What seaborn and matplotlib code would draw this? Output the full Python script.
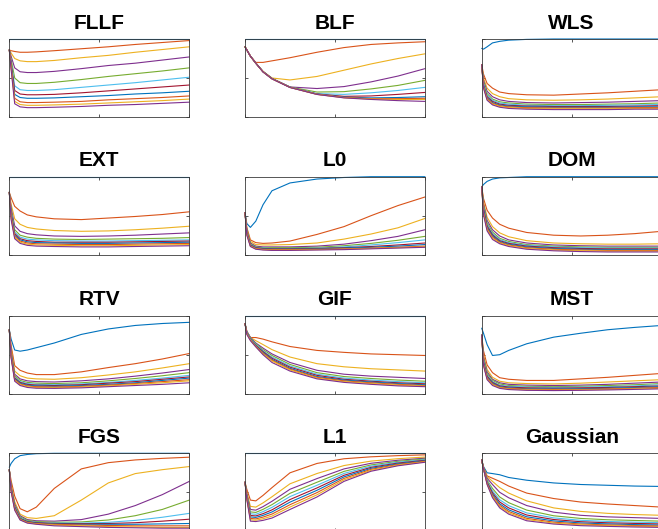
"""Convergence curves for twelve smoothing filters, drawn as a 4x3 grid."""
import matplotlib
matplotlib.use("Agg")
import matplotlib.pyplot as plt
import pandas as pd
import seaborn as sns

# shared x positions (normalised iteration axis)
X = [0, 0.01, 0.03, 0.06, 0.1, 0.15, 0.25, 0.4, 0.55, 0.7, 0.85, 1.0]

# MATLAB default colour order, cycled over the 11 curves
COLORS = ["#0072BD", "#D95319", "#EDB120", "#7E2F8E", "#77AC30", "#4DBEEE",
          "#A2142F", "#0072BD", "#D95319", "#EDB120", "#7E2F8E"]

FLLF = [
    [1.0, 1.0, 1.0, 1.0, 1.0, 1.0, 1.0, 1.0, 1.0, 1.0, 1.0, 1.0],
    [0.86, 0.85, 0.84, 0.83, 0.83, 0.835, 0.85, 0.875, 0.90, 0.93, 0.955, 0.98],
    [0.86, 0.82, 0.75, 0.72, 0.71, 0.71, 0.725, 0.76, 0.79, 0.83, 0.865, 0.90],
    [0.86, 0.78, 0.63, 0.58, 0.57, 0.57, 0.585, 0.62, 0.66, 0.69, 0.73, 0.77],
    [0.86, 0.74, 0.50, 0.44, 0.43, 0.43, 0.445, 0.48, 0.52, 0.555, 0.59, 0.63],
    [0.86, 0.71, 0.40, 0.35, 0.34, 0.34, 0.35, 0.38, 0.41, 0.44, 0.475, 0.51],
    [0.86, 0.69, 0.34, 0.295, 0.285, 0.285, 0.29, 0.31, 0.335, 0.36, 0.385, 0.41],
    [0.86, 0.67, 0.29, 0.25, 0.24, 0.24, 0.245, 0.26, 0.275, 0.295, 0.31, 0.33],
    [0.86, 0.65, 0.24, 0.195, 0.185, 0.185, 0.19, 0.20, 0.22, 0.235, 0.25, 0.27],
    [0.86, 0.63, 0.20, 0.16, 0.15, 0.15, 0.155, 0.165, 0.18, 0.195, 0.21, 0.23],
    [0.86, 0.61, 0.17, 0.13, 0.12, 0.12, 0.125, 0.135, 0.15, 0.16, 0.175, 0.19],
]

BLF = [
    [1.0, 1.0, 1.0, 1.0, 1.0, 1.0, 1.0, 1.0, 1.0, 1.0, 1.0, 1.0],
    [0.9, 0.86, 0.78, 0.70, 0.70, 0.72, 0.76, 0.83, 0.89, 0.93, 0.95, 0.965],
    [0.9, 0.86, 0.78, 0.69, 0.585, 0.50, 0.475, 0.52, 0.60, 0.68, 0.75, 0.81],
    [0.9, 0.86, 0.78, 0.69, 0.584, 0.495, 0.385, 0.365, 0.39, 0.45, 0.525, 0.62],
    [0.9, 0.86, 0.78, 0.69, 0.583, 0.494, 0.384, 0.32, 0.325, 0.36, 0.405, 0.47],
    [0.9, 0.86, 0.78, 0.69, 0.582, 0.493, 0.383, 0.30, 0.29, 0.31, 0.34, 0.38],
    [0.9, 0.86, 0.78, 0.69, 0.581, 0.492, 0.382, 0.295, 0.265, 0.27, 0.29, 0.315],
    [0.9, 0.86, 0.78, 0.69, 0.580, 0.491, 0.381, 0.293, 0.255, 0.245, 0.25, 0.26],
    [0.9, 0.86, 0.78, 0.69, 0.579, 0.490, 0.380, 0.291, 0.25, 0.235, 0.235, 0.24],
    [0.9, 0.86, 0.78, 0.69, 0.578, 0.489, 0.379, 0.290, 0.247, 0.23, 0.225, 0.225],
    [0.9, 0.86, 0.78, 0.69, 0.577, 0.488, 0.378, 0.289, 0.245, 0.225, 0.21, 0.20],
]

WLS = [
    [0.88, 0.87, 0.90, 0.95, 0.97, 0.985, 0.995, 1.0, 1.0, 1.0, 1.0, 1.0],
    [0.67, 0.55, 0.43, 0.37, 0.32, 0.30, 0.285, 0.28, 0.295, 0.31, 0.33, 0.35],
    [0.67, 0.50, 0.37, 0.30, 0.26, 0.235, 0.22, 0.215, 0.22, 0.23, 0.245, 0.26],
    [0.67, 0.47, 0.33, 0.26, 0.22, 0.20, 0.185, 0.18, 0.185, 0.19, 0.20, 0.21],
    [0.67, 0.45, 0.30, 0.23, 0.195, 0.18, 0.165, 0.16, 0.16, 0.165, 0.17, 0.18],
    [0.67, 0.43, 0.28, 0.215, 0.18, 0.165, 0.15, 0.145, 0.145, 0.15, 0.155, 0.16],
    [0.67, 0.41, 0.26, 0.20, 0.165, 0.15, 0.14, 0.135, 0.135, 0.135, 0.14, 0.145],
    [0.67, 0.40, 0.245, 0.185, 0.155, 0.14, 0.13, 0.125, 0.125, 0.125, 0.13, 0.13],
    [0.67, 0.39, 0.235, 0.175, 0.145, 0.13, 0.12, 0.115, 0.115, 0.115, 0.12, 0.12],
    [0.67, 0.38, 0.225, 0.165, 0.135, 0.12, 0.11, 0.105, 0.105, 0.105, 0.11, 0.11],
    [0.67, 0.37, 0.215, 0.155, 0.125, 0.11, 0.10, 0.095, 0.095, 0.095, 0.10, 0.10],
]

EXT = [
    [1.0, 1.0, 1.0, 1.0, 1.0, 1.0, 1.0, 1.0, 1.0, 1.0, 1.0, 1.0],
    [0.80, 0.73, 0.62, 0.56, 0.51, 0.485, 0.46, 0.45, 0.47, 0.49, 0.515, 0.55],
    [0.80, 0.65, 0.46, 0.39, 0.35, 0.33, 0.31, 0.30, 0.305, 0.32, 0.34, 0.365],
    [0.80, 0.60, 0.37, 0.30, 0.27, 0.255, 0.24, 0.235, 0.24, 0.25, 0.265, 0.28],
    [0.80, 0.57, 0.32, 0.25, 0.225, 0.21, 0.20, 0.195, 0.20, 0.205, 0.21, 0.22],
    [0.80, 0.55, 0.29, 0.225, 0.20, 0.19, 0.18, 0.175, 0.175, 0.18, 0.185, 0.19],
    [0.80, 0.53, 0.27, 0.205, 0.18, 0.17, 0.16, 0.16, 0.16, 0.165, 0.17, 0.175],
    [0.80, 0.51, 0.25, 0.19, 0.165, 0.155, 0.15, 0.145, 0.145, 0.15, 0.155, 0.16],
    [0.80, 0.49, 0.235, 0.175, 0.15, 0.14, 0.135, 0.13, 0.13, 0.135, 0.14, 0.145],
    [0.80, 0.47, 0.22, 0.16, 0.135, 0.125, 0.12, 0.115, 0.115, 0.12, 0.125, 0.13],
    [0.80, 0.45, 0.205, 0.145, 0.12, 0.11, 0.105, 0.10, 0.10, 0.105, 0.11, 0.115],
]

L0 = [
    [0.54, 0.40, 0.35, 0.43, 0.64, 0.82, 0.92, 0.97, 0.99, 1.0, 1.0, 1.0],
    [0.54, 0.35, 0.19, 0.155, 0.145, 0.15, 0.175, 0.26, 0.36, 0.50, 0.63, 0.74],
    [0.54, 0.33, 0.17, 0.13, 0.125, 0.125, 0.13, 0.15, 0.20, 0.265, 0.345, 0.465],
    [0.54, 0.32, 0.15, 0.11, 0.10, 0.10, 0.10, 0.11, 0.135, 0.18, 0.235, 0.32],
    [0.54, 0.31, 0.14, 0.10, 0.09, 0.09, 0.09, 0.095, 0.115, 0.145, 0.185, 0.235],
    [0.54, 0.30, 0.13, 0.095, 0.085, 0.08, 0.08, 0.085, 0.10, 0.125, 0.155, 0.19],
    [0.54, 0.29, 0.125, 0.09, 0.08, 0.075, 0.075, 0.08, 0.09, 0.105, 0.125, 0.15],
    [0.54, 0.28, 0.12, 0.085, 0.075, 0.07, 0.07, 0.075, 0.085, 0.095, 0.11, 0.13],
    [0.54, 0.27, 0.115, 0.08, 0.07, 0.065, 0.065, 0.07, 0.075, 0.085, 0.095, 0.11],
    [0.54, 0.26, 0.11, 0.075, 0.065, 0.06, 0.06, 0.065, 0.07, 0.08, 0.09, 0.10],
    [0.54, 0.25, 0.105, 0.07, 0.06, 0.055, 0.055, 0.06, 0.065, 0.075, 0.085, 0.095],
]

DOM = [
    [0.87, 0.90, 0.94, 0.97, 0.985, 0.99, 1.0, 1.0, 1.0, 1.0, 1.0, 1.0],
    [0.87, 0.72, 0.57, 0.47, 0.39, 0.34, 0.285, 0.25, 0.24, 0.25, 0.27, 0.30],
    [0.87, 0.68, 0.48, 0.36, 0.28, 0.23, 0.18, 0.15, 0.14, 0.135, 0.135, 0.14],
    [0.87, 0.65, 0.44, 0.32, 0.24, 0.19, 0.15, 0.125, 0.115, 0.11, 0.11, 0.11],
    [0.87, 0.63, 0.41, 0.29, 0.21, 0.17, 0.13, 0.11, 0.10, 0.095, 0.095, 0.095],
    [0.87, 0.61, 0.39, 0.27, 0.195, 0.155, 0.12, 0.10, 0.09, 0.085, 0.085, 0.085],
    [0.87, 0.59, 0.37, 0.255, 0.18, 0.145, 0.11, 0.09, 0.08, 0.075, 0.075, 0.075],
    [0.87, 0.57, 0.35, 0.24, 0.17, 0.135, 0.10, 0.08, 0.07, 0.065, 0.065, 0.065],
    [0.87, 0.55, 0.335, 0.225, 0.16, 0.125, 0.09, 0.07, 0.06, 0.055, 0.055, 0.055],
    [0.87, 0.53, 0.32, 0.21, 0.15, 0.115, 0.08, 0.06, 0.05, 0.045, 0.045, 0.045],
    [0.87, 0.51, 0.305, 0.195, 0.14, 0.105, 0.07, 0.05, 0.04, 0.035, 0.035, 0.035],
]

RTV = [
    [0.82, 0.70, 0.56, 0.545, 0.56, 0.59, 0.65, 0.76, 0.83, 0.875, 0.90, 0.915],
    [0.82, 0.62, 0.36, 0.30, 0.265, 0.245, 0.245, 0.28, 0.335, 0.385, 0.445, 0.515],
    [0.82, 0.58, 0.29, 0.23, 0.20, 0.19, 0.185, 0.205, 0.24, 0.28, 0.33, 0.385],
    [0.82, 0.55, 0.25, 0.19, 0.165, 0.155, 0.15, 0.165, 0.19, 0.225, 0.265, 0.31],
    [0.82, 0.53, 0.23, 0.17, 0.145, 0.135, 0.13, 0.14, 0.165, 0.195, 0.23, 0.27],
    [0.82, 0.51, 0.21, 0.155, 0.13, 0.12, 0.115, 0.125, 0.145, 0.17, 0.20, 0.235],
    [0.82, 0.50, 0.20, 0.145, 0.12, 0.11, 0.105, 0.115, 0.135, 0.155, 0.185, 0.215],
    [0.82, 0.49, 0.19, 0.135, 0.11, 0.10, 0.095, 0.105, 0.12, 0.14, 0.17, 0.20],
    [0.82, 0.48, 0.18, 0.125, 0.10, 0.09, 0.085, 0.095, 0.11, 0.13, 0.155, 0.18],
    [0.82, 0.47, 0.17, 0.115, 0.09, 0.08, 0.078, 0.085, 0.10, 0.12, 0.14, 0.165],
    [0.82, 0.46, 0.16, 0.105, 0.08, 0.07, 0.068, 0.075, 0.09, 0.105, 0.12, 0.14],
]

GIF = [
    [1.0, 1.0, 1.0, 1.0, 1.0, 1.0, 1.0, 1.0, 1.0, 1.0, 1.0, 1.0],
    [0.9, 0.80, 0.72, 0.72, 0.70, 0.665, 0.605, 0.555, 0.53, 0.51, 0.50, 0.49],
    [0.9, 0.80, 0.72, 0.68, 0.63, 0.565, 0.47, 0.385, 0.345, 0.32, 0.305, 0.29],
    [0.9, 0.80, 0.72, 0.65, 0.585, 0.51, 0.40, 0.30, 0.25, 0.225, 0.21, 0.195],
    [0.9, 0.79, 0.71, 0.64, 0.565, 0.49, 0.375, 0.27, 0.22, 0.195, 0.175, 0.16],
    [0.9, 0.79, 0.71, 0.63, 0.55, 0.47, 0.355, 0.25, 0.20, 0.175, 0.155, 0.14],
    [0.9, 0.78, 0.70, 0.62, 0.54, 0.455, 0.34, 0.235, 0.185, 0.16, 0.14, 0.127],
    [0.9, 0.78, 0.70, 0.615, 0.53, 0.44, 0.325, 0.22, 0.175, 0.15, 0.13, 0.115],
    [0.9, 0.77, 0.69, 0.61, 0.52, 0.43, 0.315, 0.21, 0.165, 0.14, 0.12, 0.105],
    [0.9, 0.77, 0.69, 0.605, 0.51, 0.42, 0.305, 0.20, 0.155, 0.13, 0.11, 0.097],
    [0.9, 0.76, 0.68, 0.60, 0.50, 0.40, 0.29, 0.19, 0.145, 0.12, 0.10, 0.09],
]

MST = [
    [0.84, 0.775, 0.63, 0.49, 0.50, 0.555, 0.64, 0.725, 0.775, 0.82, 0.85, 0.875],
    [0.75, 0.55, 0.37, 0.27, 0.205, 0.185, 0.17, 0.17, 0.19, 0.21, 0.235, 0.26],
    [0.75, 0.50, 0.31, 0.21, 0.16, 0.14, 0.13, 0.125, 0.135, 0.15, 0.165, 0.18],
    [0.75, 0.47, 0.28, 0.185, 0.14, 0.12, 0.11, 0.105, 0.11, 0.12, 0.135, 0.15],
    [0.75, 0.45, 0.26, 0.17, 0.125, 0.105, 0.095, 0.09, 0.095, 0.105, 0.115, 0.13],
    [0.75, 0.43, 0.24, 0.155, 0.11, 0.095, 0.085, 0.08, 0.085, 0.09, 0.10, 0.115],
    [0.75, 0.41, 0.225, 0.145, 0.10, 0.085, 0.075, 0.07, 0.075, 0.08, 0.09, 0.10],
    [0.75, 0.39, 0.21, 0.135, 0.09, 0.075, 0.065, 0.06, 0.065, 0.07, 0.08, 0.09],
    [0.75, 0.38, 0.20, 0.125, 0.082, 0.068, 0.058, 0.053, 0.056, 0.062, 0.07, 0.08],
    [0.75, 0.37, 0.19, 0.115, 0.075, 0.06, 0.05, 0.046, 0.05, 0.055, 0.062, 0.07],
    [0.75, 0.36, 0.18, 0.105, 0.068, 0.053, 0.043, 0.04, 0.043, 0.048, 0.055, 0.062],
]

FGS = [
    [0.82, 0.87, 0.93, 0.97, 0.985, 0.995, 1.0, 1.0, 1.0, 1.0, 1.0, 1.0],
    [0.79, 0.65, 0.45, 0.29, 0.25, 0.31, 0.55, 0.80, 0.88, 0.915, 0.935, 0.95],
    [0.79, 0.60, 0.38, 0.22, 0.175, 0.165, 0.20, 0.40, 0.62, 0.74, 0.79, 0.83],
    [0.79, 0.58, 0.35, 0.20, 0.15, 0.135, 0.13, 0.15, 0.22, 0.33, 0.47, 0.64],
    [0.79, 0.57, 0.33, 0.185, 0.14, 0.125, 0.115, 0.12, 0.145, 0.20, 0.28, 0.40],
    [0.79, 0.56, 0.32, 0.175, 0.13, 0.115, 0.105, 0.105, 0.115, 0.14, 0.18, 0.23],
    [0.79, 0.55, 0.31, 0.165, 0.125, 0.11, 0.10, 0.098, 0.10, 0.11, 0.13, 0.155],
    [0.79, 0.54, 0.30, 0.16, 0.12, 0.105, 0.095, 0.09, 0.09, 0.09, 0.095, 0.10],
    [0.79, 0.53, 0.29, 0.155, 0.115, 0.10, 0.09, 0.08, 0.075, 0.07, 0.07, 0.07],
    [0.79, 0.52, 0.28, 0.15, 0.11, 0.095, 0.08, 0.07, 0.06, 0.055, 0.05, 0.05],
    [0.79, 0.51, 0.27, 0.145, 0.105, 0.09, 0.07, 0.06, 0.05, 0.045, 0.04, 0.04],
]

L1 = [
    [1.0, 1.0, 1.0, 1.0, 1.0, 1.0, 1.0, 1.0, 1.0, 1.0, 1.0, 1.0],
    [0.63, 0.54, 0.40, 0.39, 0.46, 0.56, 0.75, 0.87, 0.93, 0.955, 0.97, 0.98],
    [0.63, 0.50, 0.32, 0.31, 0.364, 0.443, 0.609, 0.741, 0.843, 0.90, 0.931, 0.952],
    [0.63, 0.48, 0.28, 0.271, 0.316, 0.385, 0.539, 0.676, 0.80, 0.872, 0.911, 0.937],
    [0.63, 0.467, 0.249, 0.242, 0.281, 0.342, 0.487, 0.629, 0.768, 0.851, 0.897, 0.927],
    [0.63, 0.456, 0.225, 0.218, 0.252, 0.307, 0.445, 0.59, 0.742, 0.835, 0.886, 0.918],
    [0.63, 0.445, 0.203, 0.197, 0.226, 0.275, 0.407, 0.556, 0.718, 0.82, 0.875, 0.911],
    [0.63, 0.436, 0.184, 0.178, 0.204, 0.248, 0.374, 0.526, 0.698, 0.807, 0.866, 0.904],
    [0.63, 0.427, 0.165, 0.159, 0.182, 0.221, 0.341, 0.496, 0.678, 0.794, 0.857, 0.897],
    [0.63, 0.418, 0.148, 0.142, 0.161, 0.195, 0.311, 0.468, 0.659, 0.782, 0.848, 0.891],
    [0.63, 0.41, 0.13, 0.125, 0.14, 0.17, 0.28, 0.44, 0.64, 0.77, 0.84, 0.885],
]

GAUSSIAN = [
    [0.915, 0.83, 0.75, 0.74, 0.725, 0.69, 0.655, 0.62, 0.60, 0.59, 0.58, 0.575],
    [0.915, 0.82, 0.71, 0.68, 0.64, 0.58, 0.49, 0.42, 0.375, 0.35, 0.33, 0.31],
    [0.915, 0.815, 0.70, 0.64, 0.56, 0.49, 0.39, 0.30, 0.255, 0.23, 0.215, 0.205],
    [0.915, 0.81, 0.68, 0.60, 0.50, 0.43, 0.33, 0.245, 0.205, 0.185, 0.175, 0.165],
    [0.915, 0.807, 0.656, 0.549, 0.44, 0.367, 0.272, 0.199, 0.165, 0.148, 0.139, 0.13],
    [0.915, 0.805, 0.642, 0.518, 0.404, 0.329, 0.236, 0.172, 0.141, 0.126, 0.117, 0.11],
    [0.915, 0.804, 0.63, 0.495, 0.376, 0.30, 0.209, 0.151, 0.123, 0.109, 0.101, 0.094],
    [0.915, 0.803, 0.621, 0.474, 0.352, 0.275, 0.186, 0.133, 0.107, 0.095, 0.086, 0.08],
    [0.915, 0.802, 0.613, 0.457, 0.332, 0.254, 0.166, 0.117, 0.093, 0.082, 0.074, 0.068],
    [0.915, 0.801, 0.606, 0.444, 0.316, 0.237, 0.151, 0.105, 0.083, 0.073, 0.065, 0.059],
    [0.915, 0.80, 0.60, 0.43, 0.30, 0.22, 0.135, 0.093, 0.072, 0.063, 0.055, 0.05],
]

TITLES = ["FLLF", "BLF", "WLS", "EXT", "L0", "DOM",
          "RTV", "GIF", "MST", "FGS", "L1", "Gaussian"]
CURVES = [FLLF, BLF, WLS, EXT, L0, DOM, RTV, GIF, MST, FGS, L1, GAUSSIAN]

sns.set_theme(style="white")
plt.rcParams.update({
    "font.family": ["Liberation Sans", "DejaVu Sans"],
    "axes.edgecolor": "#3a3a3a",
    "axes.linewidth": 0.6,
})

W, H = 658, 529
fig = plt.figure(figsize=(W / 100, H / 100), dpi=100)

# axes boxes in pixels (left, top); the right column and bottom row run off the canvas
col_left = [9.3, 245.0, 481.7]
row_top = [39.0, 176.7, 315.7, 453.3]
ax_w, ax_h = 180.0, 78.0


def long_form(curves):
    rows = []
    for i, ys in enumerate(curves):
        for x, y in zip(X, ys):
            rows.append({"line": i, "x": x, "y": y})
    return pd.DataFrame(rows)


for k, (title, curves) in enumerate(zip(TITLES, CURVES)):
    r, c = divmod(k, 3)
    left = col_left[c] / W
    bottom = 1 - (row_top[r] + ax_h) / H
    ax = fig.add_axes([left, bottom, ax_w / W, ax_h / H])

    df = long_form(curves)
    sns.lineplot(data=df, x="x", y="y", hue="line", palette=COLORS,
                 estimator=None, sort=False, legend=False, lw=0.8, ax=ax)
    for ln in ax.lines:
        ln.set_clip_on(False)

    ax.set_xlim(0, 1)
    ax.set_ylim(0, 1)
    ax.set_xticks([0, 0.5, 1])
    ax.set_yticks([0, 0.5, 1])
    ax.tick_params(direction="in", length=2, width=0.6, color="#3a3a3a",
                   top=True, right=True, bottom=True, left=True,
                   labelbottom=False, labelleft=False)
    ax.set_xlabel("")
    ax.set_ylabel("")
    ax.set_title(title, fontsize=15, fontweight="bold", color="black", pad=7.5)

fig.savefig("out.png", dpi=100)
plt.close(fig)
